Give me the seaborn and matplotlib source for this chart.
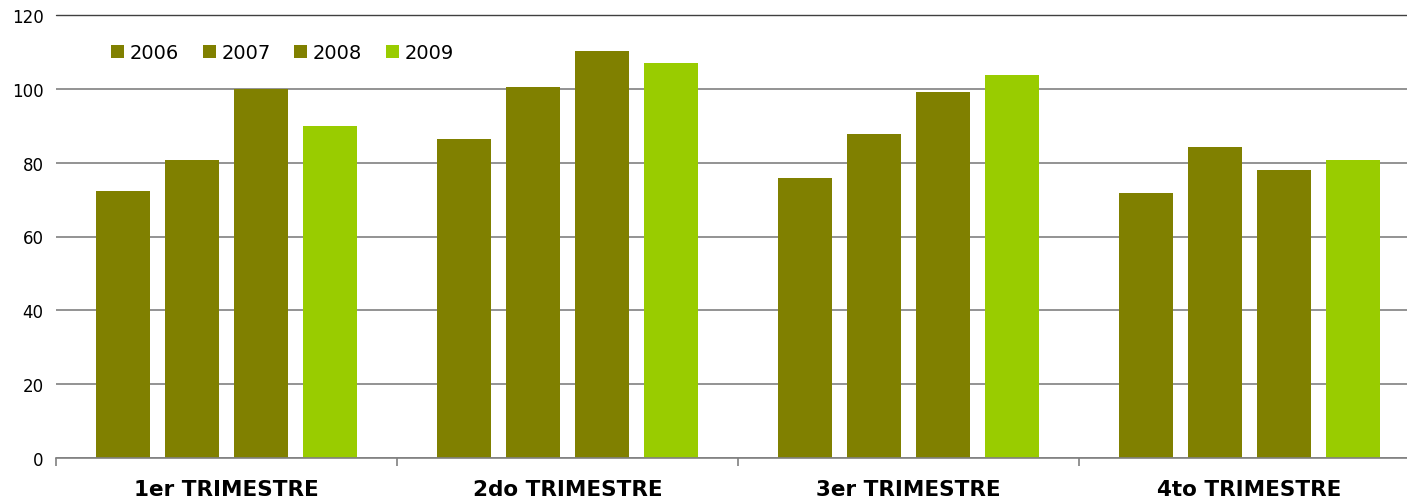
import matplotlib
matplotlib.use("Agg")
import matplotlib.pyplot as plt
import seaborn as sns
import pandas as pd
from matplotlib.patches import Patch

categories = ["1er TRIMESTRE", "2do TRIMESTRE", "3er TRIMESTRE", "4to TRIMESTRE"]
years = ["2006", "2007", "2008", "2009"]
v2006 = [72.2, 86.5, 75.9, 71.9]
v2007 = [80.6, 100.6, 87.8, 84.3]
v2008 = [100.0, 110.3, 99.2, 77.9]
v2009 = [90.0, 107.1, 103.8, 80.6]
yticks = [0, 20, 40, 60, 80, 100, 120]

colors = {"2006": "#808000", "2007": "#808000", "2008": "#808000", "2009": "#99CC00"}

rows = []
for y, vals in zip(years, [v2006, v2007, v2008, v2009]):
    for c, v in zip(categories, vals):
        rows.append({"cat": c, "year": y, "val": v})
df = pd.DataFrame(rows)

sns.set_style("white")
plt.rcParams["font.family"] = ["DejaVu Sans"]
plt.rcParams["text.color"] = "black"
plt.rcParams["xtick.color"] = "black"
plt.rcParams["ytick.color"] = "black"

fig = plt.figure(figsize=(14.07, 5.02), dpi=100)
W, H = 1407, 502
left, right, top, bottom = 56, 1420, 16, 459
ax = fig.add_axes([left / W, 1 - bottom / H, (right - left) / W, (bottom - top) / H])

sns.barplot(data=df, x="cat", y="val", hue="year", order=categories, hue_order=years,
            palette=colors, width=0.81, gap=0.22, saturation=1, ax=ax, legend=False,
            errorbar=None, zorder=3, linewidth=0, edgecolor="none")

ax.set_xlim(-0.5, 3.5)
ax.set_ylim(0, 120)
ax.set_yticks(yticks)
ax.set_yticklabels([str(t) for t in yticks], fontsize=12)
ax.yaxis.grid(True, color="#808080", linewidth=1.2, zorder=0)
ax.axhline(120, color="#404040", linewidth=1.0, zorder=1, clip_on=False)
ax.set_axisbelow(True)
for s in ["left", "right", "top"]:
    ax.spines[s].set_visible(False)
ax.spines["bottom"].set_color("#808080")
ax.spines["bottom"].set_linewidth(1.2)
ax.spines["bottom"].set_zorder(4)
ax.tick_params(axis="y", length=0, pad=9, labelcolor="black")
ax.set_xticks(range(4))
ax.set_xticklabels(categories, fontsize=15.5, fontweight="bold", color="black")
ax.tick_params(axis="x", which="major", length=0, pad=15, bottom=True)
ax.set_xticks([-0.5, 0.5, 1.5, 2.5], minor=True)
ax.tick_params(axis="x", which="minor", length=6, color="#808080", width=1.2,
               direction="out", bottom=True)
ax.set_xlabel("")
ax.set_ylabel("")

handles = [Patch(facecolor=colors[y], edgecolor="none") for y in years]
leg = ax.legend(handles, years, loc="center left", bbox_to_anchor=(0.0405, 0.915),
                ncol=4, frameon=False, fontsize=14, handlelength=0.67, handleheight=0.67,
                handletextpad=0.3, columnspacing=1.2, borderaxespad=0, borderpad=0,
                labelcolor="black")

fig.savefig("out.png", dpi=100)
